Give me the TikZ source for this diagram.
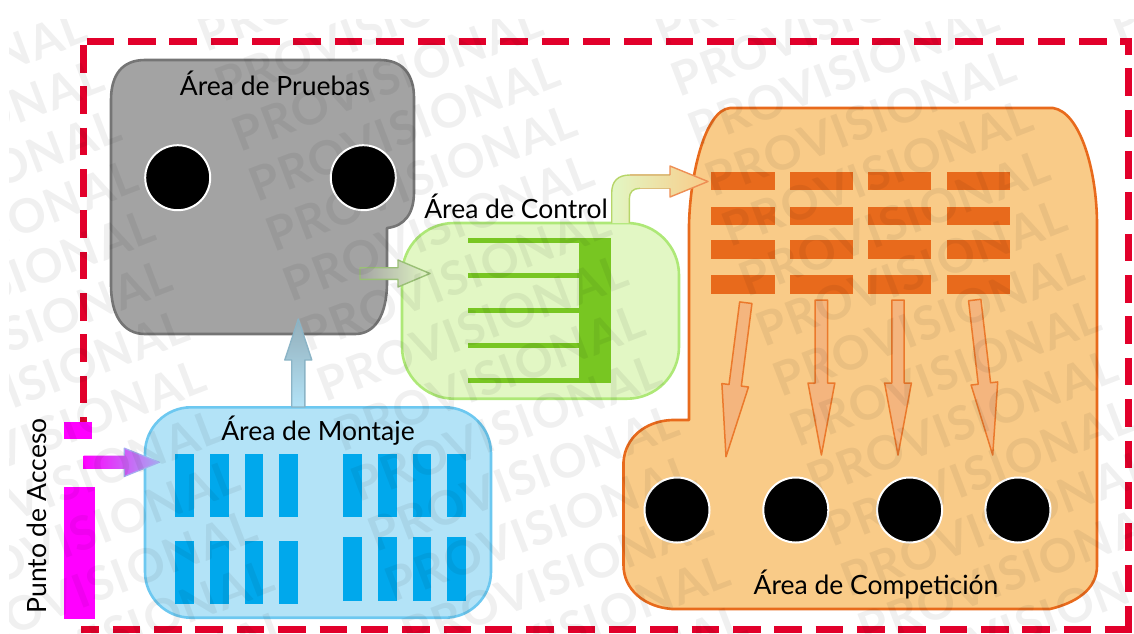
\documentclass[tikz,border=0pt]{standalone}
\usepackage{fontspec}
\setmainfont{Lato}
\newfontfamily\stampfont{Lato}[LetterSpace=3]
\usetikzlibrary{positioning}
\usetikzlibrary{calc}
\definecolor{frameRed}{HTML}{E2002B}
\definecolor{accessPink}{HTML}{FF00FF}
\definecolor{accessTipCol}{HTML}{A5ACF0}
\definecolor{testFill}{HTML}{A3A3A3}
\definecolor{testLine}{HTML}{757575}
\definecolor{ctrlFill}{HTML}{E2F7C4}
\definecolor{ctrlLine}{HTML}{AEE877}
\definecolor{ctrlDark}{HTML}{78C622}
\definecolor{mountFill}{HTML}{B3E3F7}
\definecolor{mountLine}{HTML}{6DC8F0}
\definecolor{mountDark}{HTML}{00A8EC}
\definecolor{compFill}{HTML}{F9CB88}
\definecolor{compLine}{HTML}{E86A1C}
\definecolor{compArrow}{HTML}{F4B57E}
\tikzset{
    frameline/.style={draw=frameRed,line width=7pt,dash pattern=on 27.5pt off 13.85pt},
    area/.style={line width=2.6pt,line join=round},
    arealabel/.style={font=\fontsize{26.5}{30}\selectfont,inner sep=0pt},
    hole/.style={circle,fill=black,draw=white,line width=2pt,minimum size=65pt,inner sep=0pt},
    stamp/.style={font=\stampfont\bfseries\fontsize{47}{52}\selectfont,text=black,opacity=.06,inner sep=0pt,rotate=21,anchor=south west},
}
% tail, tip, half shaft, half head, head length, style
\newcommand{\blockarrow}[6]{
    \coordinate (hb) at ($(#2)!#5pt!(#1)$);
    #6 ($(#1)!#3pt!90:(#2)$) -- ($(hb)!#3pt!90:(#2)$) -- ($(hb)!#4pt!90:(#2)$) -- (#2)
        -- ($(hb)!#4pt!-90:(#2)$) -- ($(hb)!#3pt!-90:(#2)$) -- ($(#1)!#3pt!-90:(#2)$) -- cycle;
}
\begin{document}
\begin{tikzpicture}[x=1pt,y=-1pt]
    \useasboundingbox (0,0) rectangle (1134,633);

    % access point and outer fence
    \draw[frameline] (83.5,45) -- (83.5,422);
    \draw[frameline] (86.7,41) -- (1131.5,41);
    \draw[frameline,dash phase=16pt] (1128,43) -- (1128,633);
    \draw[frameline,dash phase=9.6pt] (81,629.5) -- (1131.5,629.5);
    \fill[accessPink] (64.3,421.7) rectangle (92.3,439);
    \fill[accessPink] (64.3,486.7) rectangle (95,619.3);

    % test area
    \draw[area,fill=testFill,draw=testLine] (111,100) .. controls (111,75) and (122,60) .. (145,60)
        -- (380,60) .. controls (403,60) and (414,75) .. (414,98)
        -- (414,192) .. controls (414,213) and (405,226) .. (387,228)
        -- (387,282) .. controls (387,315) and (375,334) .. (355,334)
        -- (145,334) .. controls (123,334) and (111,315) .. (111,285) -- cycle;

    % control area
    \draw[area,fill=ctrlFill,draw=ctrlLine,rounded corners=52pt] (402,223) rectangle (679,398.7);
    \fill[ctrlDark] (579.3,238) rectangle (611,382.7);
    \foreach \ty in {240.5,275.3,310.3,345.3,380.3}
        \fill[ctrlDark] (468,\ty-2.7) rectangle (580,\ty+2.7);

    % assembly area
    \draw[area,fill=mountFill,draw=mountLine,rounded corners=46pt] (145,407.3) rectangle (491,617.7);
    \foreach \bx in {175,210,244.7,279.3,343.3,378,412.7,447.3}
        \fill[mountDark] (\bx,454) rectangle (\bx+18.7,517.3);
    \foreach \bx in {175,210,244.7,279.3}
        \fill[mountDark] (\bx,541) rectangle (\bx+18.7,604);
    \foreach \bx in {343.3,378,412.7,447.3}
        \fill[mountDark] (\bx,537.3) rectangle (\bx+18.7,600.7);

    % competition area
    \draw[area,fill=compFill,draw=compLine] (730,108) -- (1053,108)
        .. controls (1080,112) and (1097,170) .. (1097,225)
        -- (1097,566) .. controls (1097,590) and (1075,603) .. (1050,609)
        -- (672,609) .. controls (645,607) and (623.5,590) .. (623.5,565)
        -- (623.5,462) .. controls (625,438) and (645,421) .. (672,420)
        -- (689,420) -- (689,225) .. controls (690,175) and (705,110) .. (730,108) -- cycle;
    \foreach \by in {171.7,206.7,240.3,275.3}
        \foreach \bx/\bw in {711.4/63.6,790/63,867.6/63,947/63}
            \fill[compLine] (\bx,\by) rectangle (\bx+\bw,\by+18.5);

    % holes
    \foreach \hname/\hx/\hy in {ha/177.7/177.7,hb/363.3/177.7,hc/677/510,hd/795.8/510,he/909.6/510,hf/1017.9/510}
        \node[hole] (\hname) at (\hx,\hy) {};

    % flow arrows
    \coordinate (accessTail) at (83.5,462.3);
    \coordinate (accessTip)  at (159.3,462.3);
    \blockarrow{accessTail}{accessTip}{6.6}{14.2}{35}{\shade[left color=accessPink,right color=accessTipCol]}
    \draw[accessTipCol,line width=1.2pt,line join=round] (hb) ++(0,-6.6) -- ++(0,-7.6) -- (accessTip) -- ($(hb)+(0,14.2)$) -- ++(0,-7.6);
    \coordinate (mountTail) at (298.3,407);
    \coordinate (mountTip)  at (298.3,319);
    \blockarrow{mountTail}{mountTip}{6.6}{13.5}{41}{\shadedraw[bottom color=mountFill,top color=testFill!70!mountLine,draw=testFill!55!mountLine,line width=1.4pt,line join=round]}
    \coordinate (testTail) at (360,273.5);
    \coordinate (testTip)  at (430,273.5);
    \blockarrow{testTail}{testTip}{5.8}{13.5}{32}{\shadedraw[left color=testFill,right color=ctrlFill,draw=testLine!35!ctrlLine,line width=1.4pt,line join=round]}
    \shade[left color=ctrlFill,middle color=compFill!55!ctrlFill,right color=compFill]
        (611.7,223) -- (611.7,193) .. controls (611.7,181) and (618,175) .. (630,175)
        -- (670,175) -- (670,166) -- (708,181.5) -- (670,197) -- (670,188.3) -- (640,188.3)
        .. controls (633,188.3) and (629.3,192) .. (629.3,199) -- (629.3,223) -- cycle;
    \draw[ctrlLine!85!compLine,line width=1.4pt] (611.7,223) -- (611.7,193) .. controls (611.7,181) and (618,175) .. (630,175);
    \draw[ctrlLine!85!compLine,line width=1.4pt] (629.3,223) -- (629.3,199) .. controls (629.3,192) and (633,188.3) .. (640,188.3);
    \draw[ctrlLine!45!compLine!70!white,line width=1.4pt] (630,175) -- (670,175);
    \draw[ctrlLine!45!compLine!70!white,line width=1.4pt] (640,188.3) -- (670,188.3);
    \draw[compLine!75!white,line width=1.4pt,line join=round] (670,175) -- (670,166) -- (708,181.5) -- (670,197) -- (670,188.3);
    \foreach \tname/\ax/\ay/\bx/\by in {a/745.8/302.7/726/456.7,b/821.4/300/821.4/455,c/898/300/898/455,d/974.7/300/992.7/455}{
        \coordinate (tail\tname) at (\ax,\ay);
        \coordinate (tip\tname)  at (\bx,\by);
        \blockarrow{tail\tname}{tip\tname}{6.2}{13.4}{72}{\draw[fill=compArrow,draw=compLine!85!compFill,line width=1.5pt,line join=round]}
    }

    % labels
    \node[arealabel] (lbltest)    at (275,83)    {Área de Pruebas};
    \node[arealabel] (lblcontrol) at (516,206)   {Área de Control};
    \node[arealabel] (lblmount)   at (318,431)   {Área de Montaje};
    \node[arealabel] (lblcomp)    at (876,584)   {Área de Competición};
    \node[arealabel,rotate=90] (lblaccess) at (37,516) {Punto de Acceso};

    % stamp over everything
    \begin{scope}
        \clip (9,19) rectangle (1134,633);
        \foreach \i in {-3,...,5}
            \foreach \j in {-6,...,14}{
                \pgfmathsetmacro\sx{241+405*\i+17*\j}
                \pgfmathsetmacro\sy{153-155*\i+50*\j}
                \ifdim\sx pt>-450pt \ifdim\sx pt<1134pt \ifdim\sy pt>0pt \ifdim\sy pt<800pt
                    \node[stamp] (st\i\j) at (\sx,\sy) {PROVISIONAL};
                \fi\fi\fi\fi
            }
    \end{scope}
\end{tikzpicture}
\end{document}
